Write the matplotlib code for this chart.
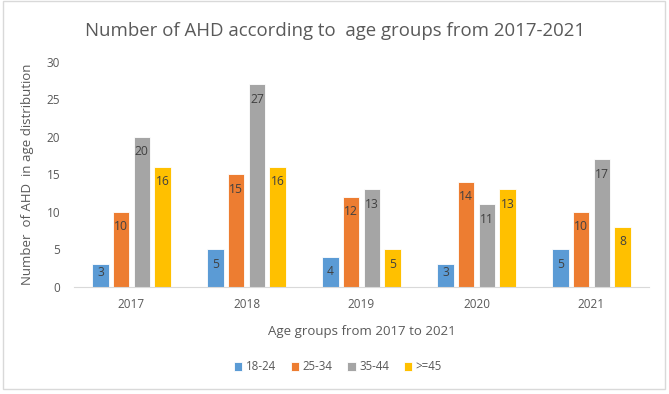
import matplotlib
matplotlib.use("Agg")
import matplotlib.pyplot as plt
import numpy as np
from matplotlib.patches import Rectangle

years = ["2017", "2018", "2019", "2020", "2021"]
series_names = ["18-24", "25-34", "35-44", ">=45"]
v_18_24 = [3, 5, 4, 3, 5]
v_25_34 = [10, 15, 12, 14, 10]
v_35_44 = [20, 27, 13, 11, 17]
v_45_plus = [16, 16, 5, 13, 8]
colors = ["#5B9BD5", "#ED7D31", "#A5A5A5", "#FFC000"]

plt.rcParams['font.family'] = ['Open Sans', 'DejaVu Sans']

fig = plt.figure(figsize=(6.69, 3.94), dpi=100)
fig.patches.append(Rectangle((3/669, 5/394), 662/669, 388/394, transform=fig.transFigure,
                             fill=False, edgecolor="#D9D9D9", linewidth=1))
ax = fig.add_axes([74/669, 107.3/394, 575/669, 225/394])

x = np.arange(len(years))
step = 0.18
width = 0.142
all_vals = [v_18_24, v_25_34, v_35_44, v_45_plus]
px_per_unit = 225 / 30
for i, (vals, c, name) in enumerate(zip(all_vals, colors, series_names)):
    pos = x + (i - 1.5) * step
    ax.bar(pos, vals, width, color=c, label=name, edgecolor="white", linewidth=0.6)
    for p, v in zip(pos, vals):
        off = min(15, v * px_per_unit - 14)
        ax.annotate(str(v), (p, v), xytext=(0, -off), textcoords="offset pixels",
                    ha="center", va="center", fontsize=8.7, color="#404040")

ax.set_xlim(-0.5, len(years) - 0.5)
ax.set_ylim(0, 30)
ax.set_yticks(range(0, 31, 5))
ax.set_xticks(x)
ax.set_xticklabels(years)
for s in ["top", "right", "left"]:
    ax.spines[s].set_visible(False)
ax.spines["bottom"].set_color("#D9D9D9")
ax.tick_params(axis="both", length=0, labelsize=8.5, labelcolor="#595959")
ax.tick_params(axis="x", pad=8)
ax.tick_params(axis="y", pad=10)

ax.set_xlabel("Age groups from 2017 to 2021", fontsize=9.5, color="#595959", labelpad=10)
ax.set_ylabel("Number  of AHD  in age distribution", fontsize=9.5, color="#595959", labelpad=9)
fig.text(335/669, 1 - 31/394, "Number of AHD according to  age groups from 2017-2021",
         ha="center", va="center", fontsize=13.4, color="#595959")

fig.legend(loc="center", bbox_to_anchor=(338/669, 1 - 367/394), ncol=4, frameon=False,
           fontsize=8.3, handlelength=0.7, handleheight=0.7, handletextpad=0.3,
           columnspacing=1.3, labelcolor="#595959")

fig.savefig("out.png", dpi=100)
